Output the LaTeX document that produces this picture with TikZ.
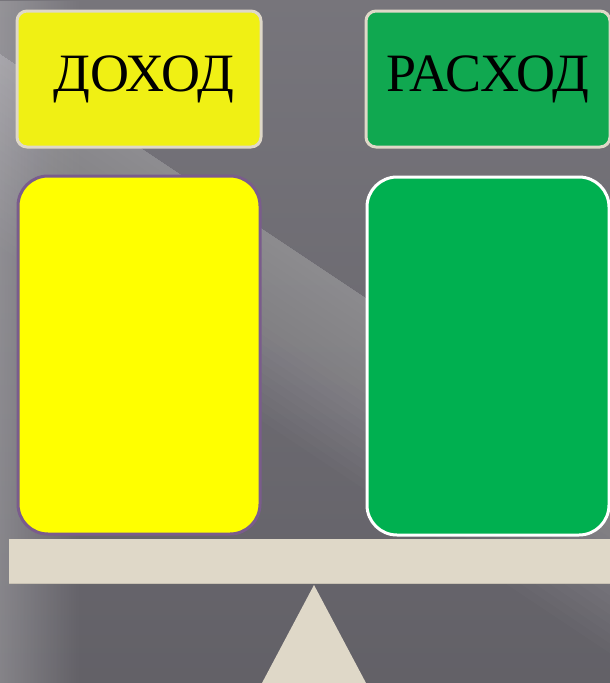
\documentclass[tikz,border=0pt]{standalone}
\usepackage{fontspec}
\setmainfont{Liberation Serif}
\usetikzlibrary{fadings}
\definecolor{bggray}{HTML}{6B6970}
\definecolor{beige}{HTML}{DFD8C8}
\definecolor{incomefill}{HTML}{F0F014}
\definecolor{costfill}{HTML}{10A850}
\definecolor{bigyellow}{HTML}{FFFF00}
\definecolor{biggreen}{HTML}{00B050}
\definecolor{plum}{HTML}{7A5C8C}
\tikzfading[name=edgefade, left color=transparent!0, right color=transparent!100]

\begin{document}
\begin{tikzpicture}[
    x=1pt, y=-1pt,
    labelbox/.style={draw=beige, line width=3pt, rounded corners=10pt,
      minimum width=244pt, minimum height=136pt, inner sep=0pt,
      font=\fontsize{54}{54}\selectfont},
    panel/.style={line width=3pt, rounded corners=30pt,
      minimum width=242pt, minimum height=358pt, inner sep=0pt}
]
  \useasboundingbox (0,0) rectangle (610,683);

  % background
  \shade[top color=bggray!92!white, bottom color=bggray!92!black]
    (0,0) rectangle (610,683);
  \fill[white, opacity=0.22, path fading=edgefade] (0,0) rectangle (80,683);
  \begin{scope}[shift={(0,54)}, rotate=-33.7]
    \foreach \k in {1,...,20}
      \fill[white, opacity=0.016] (-200,0) rectangle (1400,8*\k);
  \end{scope}

  % labels
  \node[labelbox, fill=incomefill] (dohod) at (139,79) {\raisebox{-3pt}{\hspace{10pt}ДОХОД}};
  \node[labelbox, fill=costfill]   (rashod) at (488,79) {\raisebox{-3pt}{РАСХОД}};

  % pans
  \node[panel, draw=plum, fill=bigyellow] (left)  at (139,355) {};
  \node[panel, draw=white, fill=biggreen] (right) at (488,356) {};

  % scales
  \fill[beige] (9,539) rectangle (612,583);
  \draw[beige!90!black, line width=0.5pt] (9,583) -- (612,583);
  \fill[beige] (314,585) -- (366,683) -- (262,683) -- cycle;
\end{tikzpicture}
\end{document}
